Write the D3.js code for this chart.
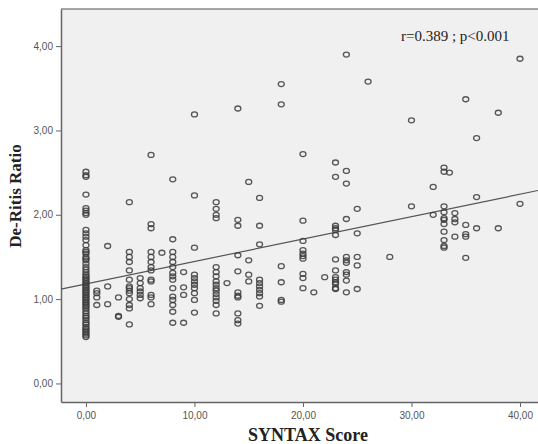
<!DOCTYPE html>
<html>
<head>
<meta charset="utf-8">
<script src="https://cdn.jsdelivr.net/npm/d3@7"></script>
<style>
  body { margin: 0; background: #fff; }
  .tick text { font-family: "Liberation Sans", Arial, sans-serif; font-size: 10px; fill: #555; }
  .tick line { stroke: #666; }
  .axis-title { font-family: "Liberation Serif", "Times New Roman", serif; font-weight: bold; fill: #222; }
</style>
</head>
<body>
<svg class="chart"></svg>
<script>
    // SYNTAX score groups and the De-Ritis ratios read at each score
    const syntaxScores = [0, 1, 2, 3, 4, 5, 6, 7, 8, 9, 10, 12, 13, 14, 15, 16, 18, 20, 21, 22,
        23, 24, 25, 26, 28, 30, 32, 33, 33.5, 34, 35, 36, 38, 40];

    const ratioColumns = [
        [2.51, 2.47, 2.45, 2.24, 2.08, 2.05, 2.02, 2.00, 1.82, 1.78, 1.74, 1.70, 1.64, 1.58, 1.56, 1.54,
         1.50, 1.48, 1.46, 1.42, 1.38, 1.35, 1.32, 1.29, 1.27, 1.25, 1.23, 1.21, 1.19, 1.17, 1.15, 1.13,
         1.11, 1.09, 1.07, 1.05, 1.03, 1.01, 0.99, 0.97, 0.95, 0.93, 0.91, 0.89, 0.86, 0.83, 0.80, 0.78,
         0.75, 0.72, 0.70, 0.67, 0.65, 0.63, 0.61, 0.59, 0.57, 0.55],
        [1.10, 1.07, 1.02, 0.93],
        [1.63, 1.15, 0.94],
        [1.02, 0.80, 0.79],
        [2.15, 1.56, 1.50, 1.44, 1.34, 1.23, 1.15, 1.13, 1.10, 1.07, 1.00, 0.93, 0.89, 0.70],
        [1.25, 1.19, 1.13, 1.09, 1.05, 1.01],
        [2.71, 1.89, 1.84, 1.56, 1.50, 1.44, 1.38, 1.34, 1.23, 1.21, 1.05, 1.02, 0.94],
        [1.55],
        [2.42, 1.71, 1.56, 1.50, 1.44, 1.38, 1.31, 1.27, 1.23, 1.13, 1.03, 0.99, 0.93, 0.85, 0.72],
        [1.32, 1.14, 1.05, 0.72],
        [3.19, 2.23, 1.61, 1.29, 1.25, 1.21, 1.17, 1.13, 1.07, 0.99, 0.84],
        [2.15, 2.07, 2.00, 1.96, 1.38, 1.32, 1.27, 1.21, 1.17, 1.13, 1.10, 1.06, 1.02, 0.98, 0.93, 0.83],
        [1.19],
        [3.26, 1.94, 1.87, 1.52, 1.33, 1.08, 1.04, 1.02, 0.83, 0.75, 0.71],
        [2.39, 1.46, 1.29, 1.21],
        [2.20, 1.87, 1.65, 1.23, 1.19, 1.15, 1.11, 1.07, 1.03, 0.92],
        [3.55, 3.31, 1.39, 1.20, 0.99, 0.97],
        [2.72, 1.93, 1.69, 1.58, 1.54, 1.51, 1.48, 1.30, 1.25, 1.13],
        [1.08],
        [1.26],
        [2.62, 2.45, 1.87, 1.84, 1.82, 1.76, 1.47, 1.34, 1.26, 1.23, 1.20, 1.18, 1.13, 1.12],
        [3.90, 2.52, 2.37, 1.95, 1.50, 1.46, 1.43, 1.32, 1.29, 1.22, 1.08],
        [2.07, 1.78, 1.50, 1.40, 1.12],
        [3.58],
        [1.50],
        [3.12, 2.10],
        [2.33, 2.00],
        [2.56, 2.51, 2.10, 2.03, 1.96, 1.94, 1.89, 1.80, 1.70, 1.63, 1.61],
        [2.50],
        [2.02, 1.95, 1.91, 1.74],
        [3.37, 1.88, 1.77, 1.74, 1.49],
        [2.91, 2.21, 1.84],
        [3.21, 1.84],
        [3.85, 2.13]
    ];

    const xTicks = [0, 10, 20, 30, 40];
    const yTicks = [0, 1, 2, 3, 4];

    // linear fit drawn by SPSS
    const fitIntercept = 1.18;
    const fitSlope = 0.0266;
    const statsLabel = "r=0.389 ; p<0.001";

    const points = [];
    syntaxScores.forEach((s, i) => {
        ratioColumns[i].forEach(r => points.push({ score: s, ratio: r }));
    });

    // Set up SVG dimensions
    const svgWidth = 538;
    const svgHeight = 444;
    const margin = { top: 9, right: 0, bottom: 42, left: 61 };

    const svg = d3.select('.chart')
        .attr('width', svgWidth)
        .attr('height', svgHeight);

    const xScale = d3.scaleLinear()
        .domain([-2.3, 41.66])
        .range([margin.left, svgWidth - margin.right]);

    const yScale = d3.scaleLinear()
        .domain([-0.22, 4.44])
        .range([svgHeight - margin.bottom, margin.top]);

    // comma decimals like the original
    const locale = d3.formatLocale({ decimal: ",", thousands: ".", grouping: [3], currency: ["", ""] });
    const fmt = locale.format(".2f");

    // plot background
    svg.append('rect')
        .attr('x', margin.left)
        .attr('y', margin.top)
        .attr('width', svgWidth - margin.left - margin.right)
        .attr('height', svgHeight - margin.bottom - margin.top)
        .attr('fill', '#f0f0f0');

    // frame: top line
    svg.append('line')
        .attr('x1', margin.left).attr('x2', svgWidth)
        .attr('y1', margin.top).attr('y2', margin.top)
        .attr('stroke', '#888')
        .attr('stroke-width', 1.5);

    // Draw x-axis
    const xAxis = svg.append('g')
        .attr('transform', `translate(0, ${svgHeight - margin.bottom})`)
        .call(d3.axisBottom(xScale).tickValues(xTicks).tickFormat(fmt).tickSize(5).tickSizeOuter(0));
    xAxis.select('.domain').attr('stroke', '#666').attr('stroke-width', 1.5);
    xAxis.selectAll('.tick text').attr('dy', '0.9em');

    // Draw y-axis
    const yAxis = svg.append('g')
        .attr('transform', `translate(${margin.left}, 0)`)
        .call(d3.axisLeft(yScale).tickValues(yTicks).tickFormat(fmt).tickSize(5).tickSizeOuter(0));
    yAxis.select('.domain').attr('stroke', '#666').attr('stroke-width', 1.5);
    yAxis.selectAll('.tick text').attr('x', -8);

    // fit line
    const [x0, x1] = xScale.domain();
    svg.append('line')
        .attr('x1', xScale(x0)).attr('y1', yScale(fitIntercept + fitSlope * x0))
        .attr('x2', xScale(x1)).attr('y2', yScale(fitIntercept + fitSlope * x1))
        .attr('stroke', '#555')
        .attr('stroke-width', 1.2);

    // points
    svg.append('g')
        .selectAll('ellipse')
        .data(points)
        .join('ellipse')
        .attr('cx', d => xScale(d.score))
        .attr('cy', d => yScale(d.ratio))
        .attr('rx', 3)
        .attr('ry', 2.5)
        .attr('fill', 'none')
        .attr('stroke', '#3c3c3c')
        .attr('stroke-opacity', 0.85)
        .attr('stroke-width', 1.3);

    // annotation
    svg.append('text')
        .attr('x', 401)
        .attr('y', 41)
        .attr('font-family', '"Liberation Serif", "Times New Roman", serif')
        .attr('font-size', 15)
        .attr('fill', '#222')
        .text(statsLabel);

    // axis titles
    svg.append('text')
        .attr('class', 'axis-title')
        .attr('x', 308)
        .attr('y', 441)
        .attr('text-anchor', 'middle')
        .attr('font-size', 18)
        .text('SYNTAX Score');

    svg.append('text')
        .attr('class', 'axis-title')
        .attr('transform', 'translate(21, 196) rotate(-90)')
        .attr('text-anchor', 'middle')
        .attr('font-size', 17)
        .text('De-Ritis Ratio');
</script>
</body>
</html>
